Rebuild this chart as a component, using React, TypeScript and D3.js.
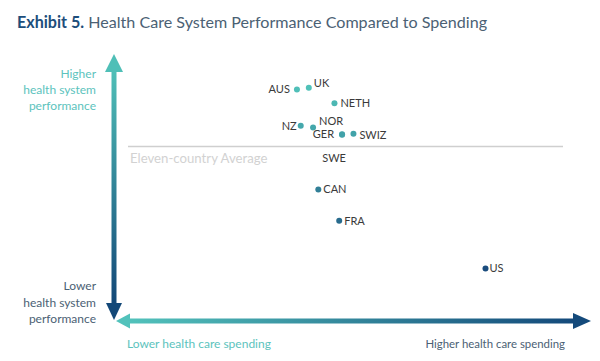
import React from 'react';
import * as d3 from 'd3';

// countries and their read-off positions (spending index, performance index)
const countries = ['AUS', 'UK', 'NETH', 'NZ', 'NOR', 'GER', 'SWIZ', 'SWE', 'CAN', 'FRA', 'US'];
const spending = [38.3, 40.8, 46.2, 39.1, 41.7, 47.8, 50.2, 47.8, 42.8, 47.2, 78.0];
const performance = [86.7, 87.3, 81.5, 73.0, 72.4, 69.8, 70.0, 69.6, 49.1, 37.3, 19.4];
const averagePerformance = [65.2];

const title = ['Exhibit 5.', 'Health Care System Performance Compared to Spending'];
const yLabelsHigh = ['Higher', 'health system', 'performance'];
const yLabelsLow = ['Lower', 'health system', 'performance'];
const xLabels = ['Lower health care spending', 'Higher health care spending'];
const averageLabel = 'Eleven-country Average';

// label placement per country: dx, dy, anchor
const labelPlace: Record<string, [number, number, string]> = {
  AUS: [-7, 4, 'end'],
  UK: [5, -1, 'start'],
  NETH: [6, 4, 'start'],
  NZ: [-4, 4, 'end'],
  NOR: [6, -2, 'start'],
  GER: [-8, 4, 'end'],
  SWIZ: [6, 5, 'start'],
  SWE: [-8, 27, 'middle'],
  CAN: [5, 4, 'start'],
  FRA: [5, 4, 'start'],
  US: [4, 4, 'start'],
};

const W = 600;
const H = 361;
const FONT = 'Lato, "Open Sans", sans-serif';

const App = () => {
  const x = d3.scaleLinear().domain([0, 100]).range([115, 590]);
  const y = d3.scaleLinear().domain([0, 100]).range([320, 54]);
  const color = d3.scaleLinear<string>().domain([20, 87]).range(['#1a4d7e', '#50c0b8']);

  const x0 = x(0);
  const x1 = x(100);
  const y0 = y(0);
  const y1 = y(100);
  const axisX = 114;
  const axisY = 321;

  const avgY = y(averagePerformance[0]);

  return (
    <svg width={W} height={H} style={{ position: 'absolute', left: 0, top: 0, background: '#fff' }}>
      <defs>
        <linearGradient id="vgrad" x1="0" y1="0" x2="0" y2="1">
          <stop offset="0%" stopColor="#4fbfb7" />
          <stop offset="100%" stopColor="#134878" />
        </linearGradient>
        <linearGradient id="hgrad" x1="0" y1="0" x2="1" y2="0">
          <stop offset="0%" stopColor="#52c2bb" />
          <stop offset="100%" stopColor="#144a7b" />
        </linearGradient>
      </defs>

      <text x={17} y={28} fontFamily={FONT} fontSize={16.1}>
        <tspan fontWeight="bold" fill="#1d4e7b">{title[0]}</tspan>
        <tspan fill="#4b6174"> {title[1]}</tspan>
      </text>

      {/* average line */}
      <line x1={128} x2={563} y1={avgY} y2={avgY} stroke="#cfcfcf" strokeWidth={1.5} />
      <text x={130} y={avgY + 16} fontFamily={FONT} fontSize={13.2} fill="#d2d2d2">
        {averageLabel}
      </text>

      {/* vertical arrow */}
      <g fill="url(#vgrad)">
        <path
          d={`M${axisX - 2.5},${y1 + 17} L${axisX + 2.5},${y1 + 17} L${axisX + 2.5},${y0 - 17} L${axisX - 2.5},${y0 - 17} Z`}
        />
        <path d={`M${axisX},${y1} L${axisX + 9},${y1 + 18} L${axisX - 9},${y1 + 18} Z`} fill="#4fbfb7" />
        <path d={`M${axisX},${y0} L${axisX + 8},${y0 - 17} L${axisX - 8},${y0 - 17} Z`} fill="#134878" />
      </g>

      {/* horizontal arrow */}
      <g fill="url(#hgrad)">
        <path
          d={`M${x0 + 14},${axisY - 2.5} L${x1 - 17},${axisY - 2.5} L${x1 - 17},${axisY + 2.5} L${x0 + 14},${axisY + 2.5} Z`}
        />
        <path d={`M${x0 + 1},${axisY} L${x0 + 15},${axisY - 7.5} L${x0 + 15},${axisY + 7.5} Z`} fill="#52c2bb" />
        <path d={`M${x1 + 1},${axisY} L${x1 - 17},${axisY - 8} L${x1 - 17},${axisY + 8} Z`} fill="#144a7b" />
      </g>

      {/* y axis labels */}
      <text fontFamily={FONT} fontSize={12} fill="#5cc3bd" textAnchor="end">
        {yLabelsHigh.map((t, i) => (
          <tspan key={t} x={96} y={78 + i * 16}>{t}</tspan>
        ))}
      </text>
      <text fontFamily={FONT} fontSize={12} fill="#4b6174" textAnchor="end">
        {yLabelsLow.map((t, i) => (
          <tspan key={t} x={96} y={290 + i * 16.5}>{t}</tspan>
        ))}
      </text>

      {/* x axis labels */}
      <text x={127} y={348} fontFamily={FONT} fontSize={12} fill="#5cc3bd">{xLabels[0]}</text>
      <text x={565} y={348} fontFamily={FONT} fontSize={11.4} fill="#4b6174" textAnchor="end">{xLabels[1]}</text>

      {/* points */}
      {countries.map((c, i) => {
        const cx = x(spending[i]);
        const cy = y(performance[i]);
        const [dx, dy, anchor] = labelPlace[c];
        return (
          <g key={c}>
            <circle cx={cx} cy={cy} r={3} fill={color(performance[i])} />
            <text
              x={cx + dx}
              y={cy + dy}
              fontFamily={FONT}
              fontSize={11}
              fill="#3a3a3a"
              textAnchor={anchor}
            >
              {c}
            </text>
          </g>
        );
      })}
    </svg>
  );
};

export default App;
